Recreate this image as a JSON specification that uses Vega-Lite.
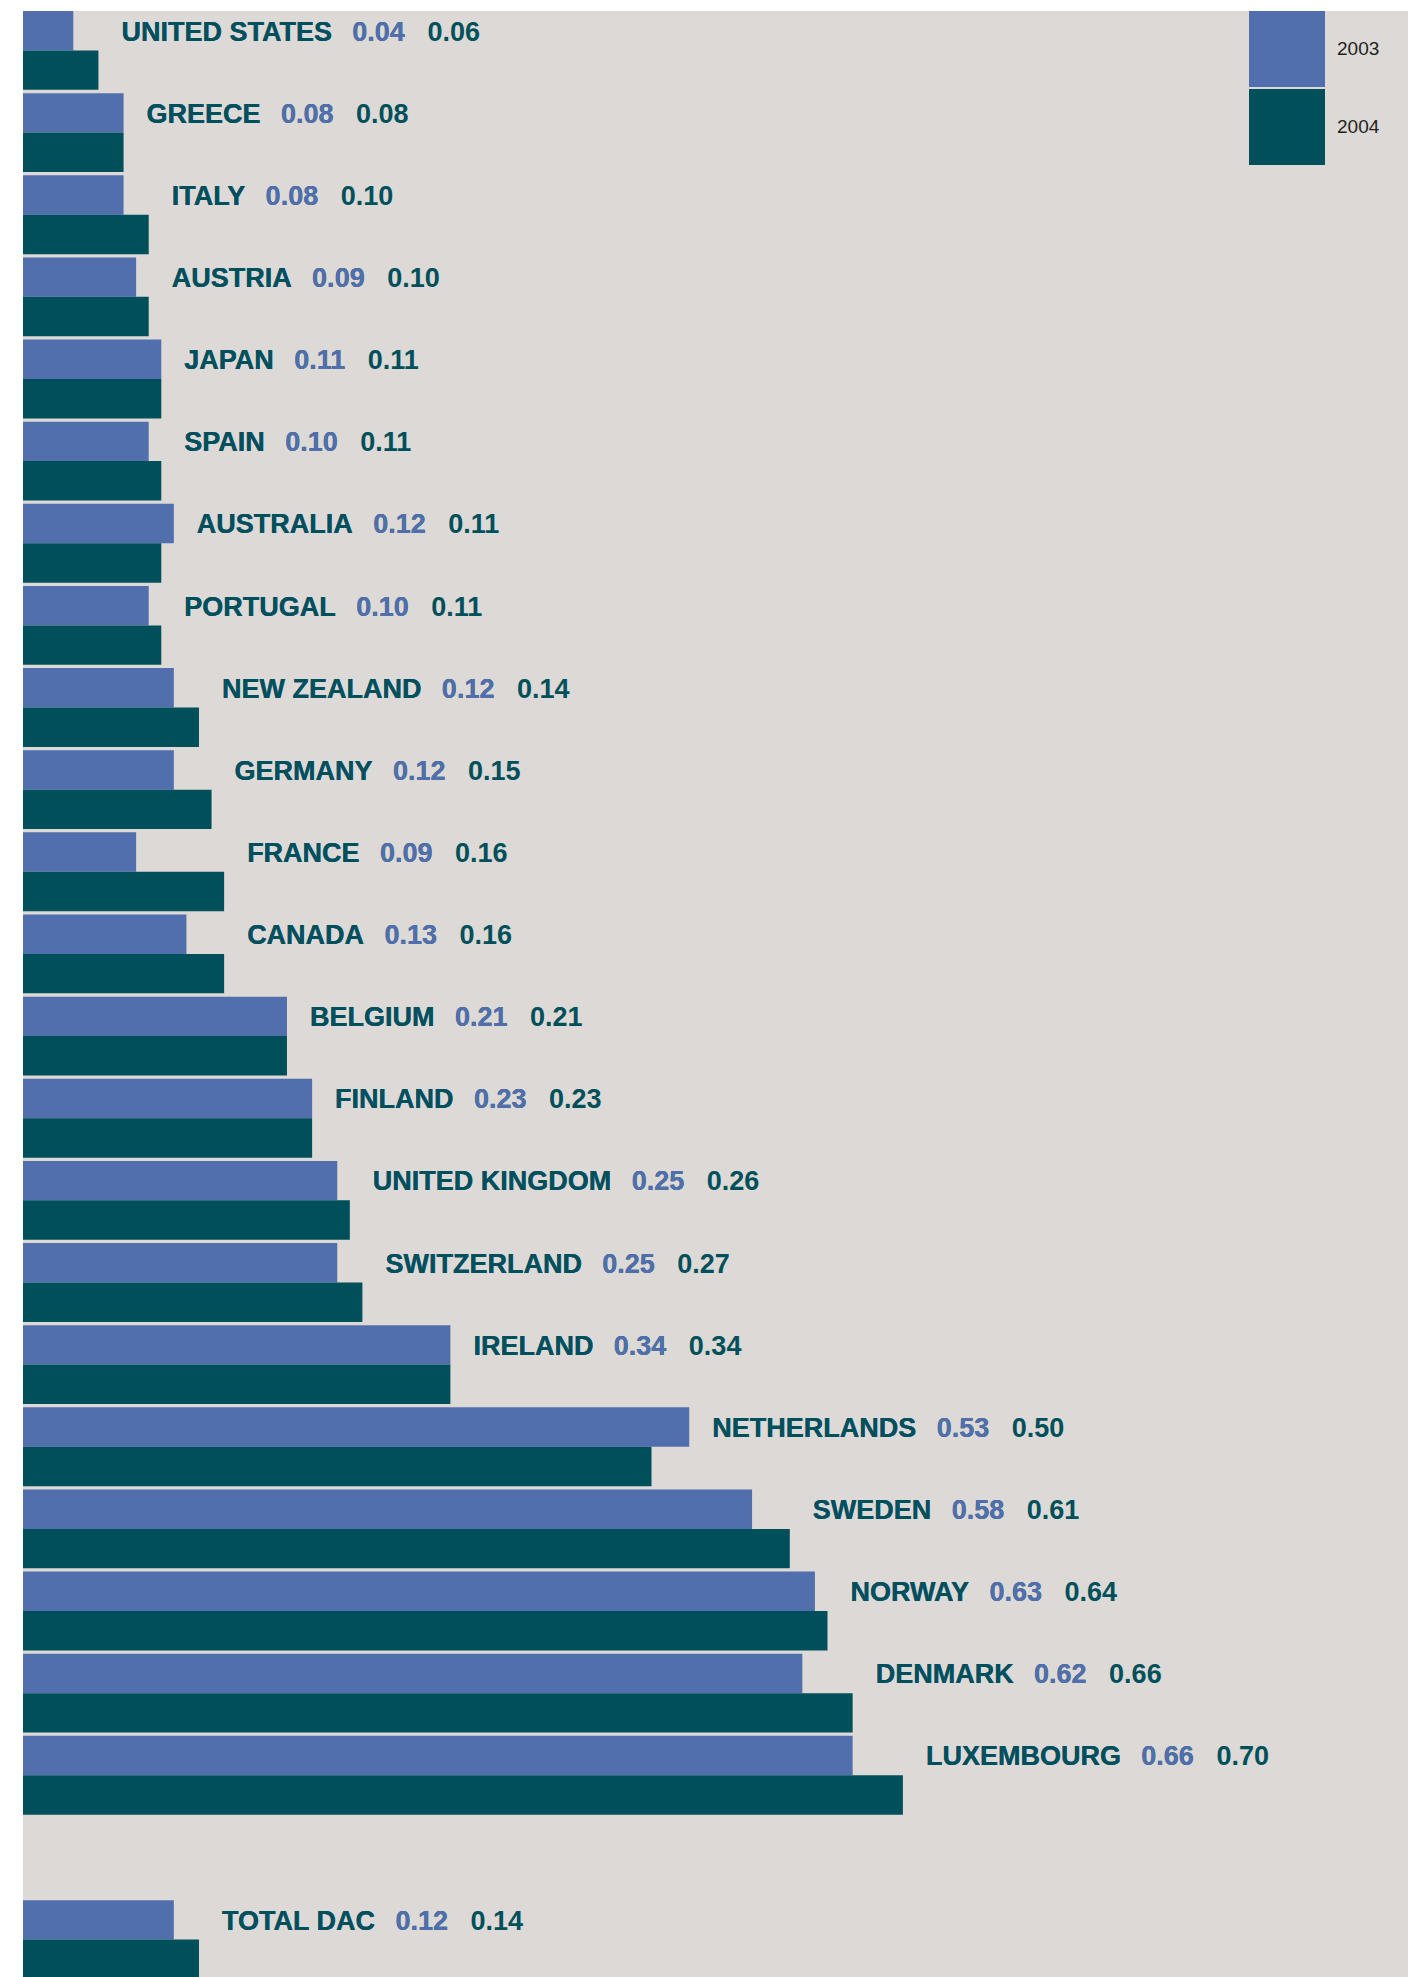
{
  "$schema": "https://vega.github.io/schema/vega-lite/v6.json",
  "width": 1385,
  "height": 1968,
  "autosize": {"type": "none"},
  "padding": {"left": 23, "top": 11, "right": 0, "bottom": 0},
  "background": "white",
  "config": {"view": {"fill": "#ddd9d6", "stroke": null}},
  "data": {"values": [
    {"country": "UNITED STATES", "2003": 0.04, "2004": 0.06},
    {"country": "GREECE", "2003": 0.08, "2004": 0.08},
    {"country": "ITALY", "2003": 0.08, "2004": 0.10},
    {"country": "AUSTRIA", "2003": 0.09, "2004": 0.10},
    {"country": "JAPAN", "2003": 0.11, "2004": 0.11},
    {"country": "SPAIN", "2003": 0.10, "2004": 0.11},
    {"country": "AUSTRALIA", "2003": 0.12, "2004": 0.11},
    {"country": "PORTUGAL", "2003": 0.10, "2004": 0.11},
    {"country": "NEW ZEALAND", "2003": 0.12, "2004": 0.14},
    {"country": "GERMANY", "2003": 0.12, "2004": 0.15},
    {"country": "FRANCE", "2003": 0.09, "2004": 0.16},
    {"country": "CANADA", "2003": 0.13, "2004": 0.16},
    {"country": "BELGIUM", "2003": 0.21, "2004": 0.21},
    {"country": "FINLAND", "2003": 0.23, "2004": 0.23},
    {"country": "UNITED KINGDOM", "2003": 0.25, "2004": 0.26},
    {"country": "SWITZERLAND", "2003": 0.25, "2004": 0.27},
    {"country": "IRELAND", "2003": 0.34, "2004": 0.34},
    {"country": "NETHERLANDS", "2003": 0.53, "2004": 0.50},
    {"country": "SWEDEN", "2003": 0.58, "2004": 0.61},
    {"country": "NORWAY", "2003": 0.63, "2004": 0.64},
    {"country": "DENMARK", "2003": 0.62, "2004": 0.66},
    {"country": "LUXEMBOURG", "2003": 0.66, "2004": 0.70},
    {"country": "TOTAL DAC", "2003": 0.12, "2004": 0.14}
  ]},
  "layer": [
    {
      "transform": [{"fold": ["2003", "2004"], "as": ["year", "value"]}],
      "mark": {"type": "bar"},
      "encoding": {
        "y": {
          "field": "country", "type": "nominal",
          "scale": {
            "domain": ["UNITED STATES", "GREECE", "ITALY", "AUSTRIA", "JAPAN", "SPAIN", "AUSTRALIA", "PORTUGAL", "NEW ZEALAND", "GERMANY", "FRANCE", "CANADA", "BELGIUM", "FINLAND", "UNITED KINGDOM", "SWITZERLAND", "IRELAND", "NETHERLANDS", "SWEDEN", "NORWAY", "DENMARK", "LUXEMBOURG", " ", "TOTAL DAC"],
            "paddingInner": 0.04, "paddingOuter": 0
          },
          "axis": null
        },
        "yOffset": {"field": "year", "type": "nominal", "scale": {"paddingInner": 0, "paddingOuter": 0}},
        "x": {"field": "value", "type": "quantitative", "scale": {"domain": [0, 1.1018], "nice": false, "zero": true}, "axis": null},
        "color": {
          "field": "year", "type": "nominal",
          "scale": {"domain": ["2003", "2004"], "range": ["#516fad", "#00505b"]},
          "legend": {
            "title": null, "orient": "none", "legendX": 1226, "legendY": 0,
            "symbolType": "square", "symbolSize": 5776, "symbolStrokeWidth": 0, "symbolOpacity": 1,
            "rowPadding": 2, "padding": 0, "labelOffset": 12,
            "labelFontSize": 19, "labelFont": "Liberation Sans", "labelColor": "#231f20"
          }
        }
      }
    },
    {
      "transform": [
        {"calculate": "max(datum['2003'], datum['2004'])", "as": "maxv"},
        {"calculate": "datum.country + '\u00a0\u00a0\u2009' + format(datum['2003'], '.2f') + '\u00a0\u00a0\u00a0' + format(datum['2004'], '.2f')", "as": "full"}
      ],
      "mark": {"type": "text", "align": "left", "baseline": "alphabetic", "dx": 23, "font": "Liberation Sans", "fontWeight": "bold", "fontSize": 27, "color": "#00505b"},
      "encoding": {
        "y": {"field": "country", "type": "nominal", "bandPosition": 0.375},
        "x": {"field": "maxv", "type": "quantitative"},
        "text": {"field": "full"}
      }
    },
    {
      "transform": [
        {"calculate": "max(datum['2003'], datum['2004'])", "as": "maxv"},
        {"calculate": "datum.country + '\u00a0\u00a0\u2009' + format(datum['2003'], '.2f')", "as": "mid"}
      ],
      "mark": {"type": "text", "align": "left", "baseline": "alphabetic", "dx": 23, "font": "Liberation Sans", "fontWeight": "bold", "fontSize": 27, "color": "#516fad"},
      "encoding": {
        "y": {"field": "country", "type": "nominal", "bandPosition": 0.375},
        "x": {"field": "maxv", "type": "quantitative"},
        "text": {"field": "mid"}
      }
    },
    {
      "transform": [
        {"calculate": "max(datum['2003'], datum['2004'])", "as": "maxv"}
      ],
      "mark": {"type": "text", "align": "left", "baseline": "alphabetic", "dx": 23, "font": "Liberation Sans", "fontWeight": "bold", "fontSize": 27, "color": "#00505b"},
      "encoding": {
        "y": {"field": "country", "type": "nominal", "bandPosition": 0.375},
        "x": {"field": "maxv", "type": "quantitative"},
        "text": {"field": "country"}
      }
    }
  ]
}
